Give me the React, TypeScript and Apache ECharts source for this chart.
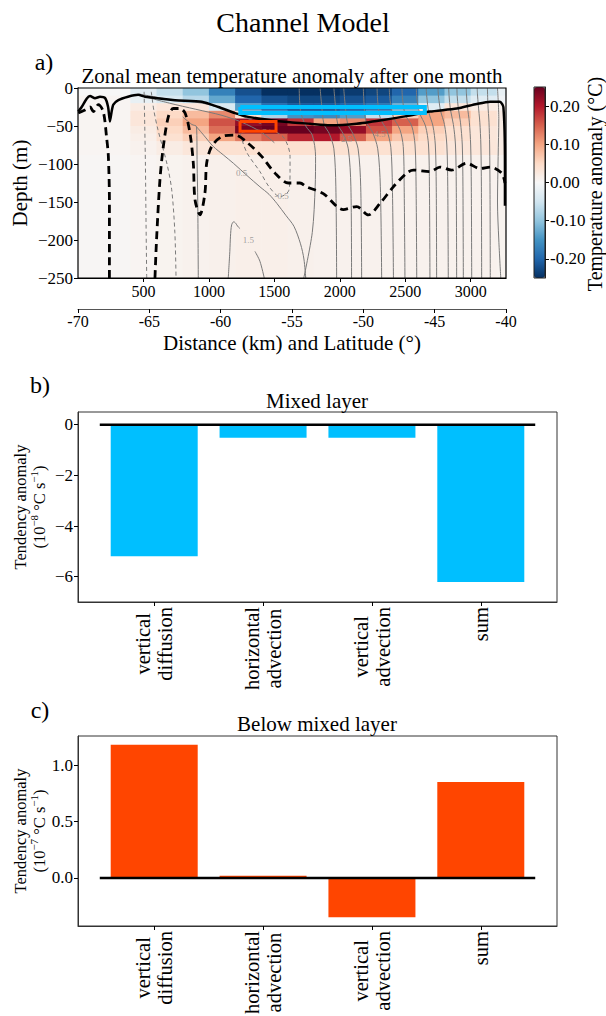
import React, { useEffect, useRef } from "react";
import * as echarts from "echarts";

const FF = "Liberation Serif";

// ---------- Panel a: zonal mean temperature anomaly ----------
const xEdges = [0, 200, 400, 600, 800, 1000, 1200, 1400, 1600, 1800, 2000, 2200, 2400, 2600, 2800, 3000, 3200, 3270];
const depthEdges = [0, -10, -20, -30, -40, -50, -60, -70, -88, -250];
const anomRow0 = [0, 0, -0.03, -0.06, -0.1, -0.17, -0.22, -0.25, -0.25, -0.25, -0.24, -0.23, -0.2, -0.14, -0.1, -0.06, -0.02];
const anomRow1 = [0.005, 0.005, -0.02, -0.04, -0.07, -0.13, -0.2, -0.22, -0.23, -0.23, -0.22, -0.21, -0.17, -0.1, -0.06, -0.03, -0.01];
const anomRow2 = [0.005, 0.005, 0.02, 0.03, 0.03, -0.04, -0.14, -0.19, -0.21, -0.21, -0.2, -0.18, -0.12, -0.03, 0.03, 0.02, 0.01];
const anomRow3 = [0.005, 0.005, 0.03, 0.05, 0.08, 0.12, 0.04, -0.08, -0.15, -0.16, -0.14, -0.06, 0.06, 0.1, 0.08, 0.04, 0.02];
const anomRow4 = [0.005, 0.005, 0.03, 0.06, 0.1, 0.16, 0.22, 0.24, 0.18, 0.1, 0.12, 0.18, 0.15, 0.1, 0.06, 0.04, 0.02];
const anomRow5 = [0.005, 0.005, 0.02, 0.05, 0.08, 0.14, 0.24, 0.25, 0.25, 0.24, 0.22, 0.16, 0.1, 0.06, 0.04, 0.03, 0.02];
const anomRow6 = [0.005, 0.005, 0.015, 0.04, 0.06, 0.1, 0.13, 0.15, 0.19, 0.2, 0.15, 0.1, 0.07, 0.05, 0.04, 0.03, 0.02];
const anomRow7 = [0.005, 0.005, 0.01, 0.02, 0.03, 0.04, 0.04, 0.04, 0.04, 0.04, 0.04, 0.04, 0.04, 0.04, 0.03, 0.03, 0.02];
const anomRow8 = [0.003, 0.003, 0.005, 0.008, 0.01, 0.012, 0.015, 0.015, 0.012, 0.01, 0.01, 0.01, 0.01, 0.01, 0.01, 0.01, 0.008];
const anomRows = [anomRow0, anomRow1, anomRow2, anomRow3, anomRow4, anomRow5, anomRow6, anomRow7, anomRow8];

// tick values
const distTicks = [500, 1000, 1500, 2000, 2500, 3000];
const depthTicks = [0, -50, -100, -150, -200, -250];
const cbarTicks = [-0.2, -0.1, 0, 0.1, 0.2];
const mixedTicks = [0, -2, -4, -6];
const belowTicks = [0, 0.5, 1.0];

// mixed layer depth (solid black) and dashed black line  [km, depth m]
const mldLine = [[2, -31], [28, -25], [66, -14], [92, -10.5], [130, -13.5], [168, -11.5], [206, -13], [230, -25], [244, -44], [258, -30], [270, -22], [308, -16], [382, -11.5], [460, -9], [512, -11.5], [741, -16], [945, -18], [1072, -25], [1200, -33], [1300, -38], [1460, -42], [1620, -45], [1772, -47], [1925, -49], [2129, -47], [2332, -42], [2511, -37], [2689, -31], [2893, -27], [3046, -21], [3148, -18], [3224, -18], [3250, -25], [3262, -100], [3262, -155]];
const dashLineWest = [[2, -33], [53, -29], [92, -25], [117, -31], [155, -22], [193, -31], [219, -66], [232, -90], [240, -150], [240, -250]];
const dashLineEast = [[588, -250], [600, -200], [626, -121], [652, -77], [690, -38], [728, -27], [779, -27], [818, -33], [856, -60], [881, -99], [894, -147], [932, -167], [970, -138], [983, -99], [1021, -77], [1098, -64], [1200, -62], [1301, -73], [1403, -90], [1505, -112], [1607, -125], [1696, -125], [1747, -130], [1874, -139], [2027, -160], [2129, -156], [2218, -167], [2307, -152], [2409, -130], [2511, -112], [2562, -108], [2689, -110], [2765, -104], [2855, -108], [2970, -99], [3071, -106], [3148, -104], [3237, -112], [3262, -125]];

// temperature contours (solid = positive, dashed = negative)
const contoursSolid = [
  [[470, -8], [700, -15], [950, -20], [1100, -27], [1250, -37], [1400, -47]],
  [[480, -10], [700, -20], [900, -28], [1100, -36], [1250, -45], [1400, -58], [1500, -72]],
  [[800, -38], [870, -48], [906, -51], [910, -100], [915, -150], [919, -250]],
  [[906, -51], [960, -62], [1034, -77], [1110, -88], [1187, -99], [1290, -115], [1390, -130], [1460, -140], [1520, -152], [1590, -168], [1650, -182], [1700, -205], [1726, -225], [1740, -250]],
  [[1148, -250], [1160, -215], [1165, -195], [1174, -180], [1190, -176], [1205, -178], [1220, -182], [1238, -185]],
  [[1352, -215], [1390, -228], [1423, -250]],
  [[1725, -250], [1790, -190], [1812, -130], [1815, -90], [1790, -62], [1740, -50], [1700, -30], [1690, 0]],
  [[1976, -250], [1970, -130], [1955, -80], [1920, -60], [1880, -48], [1860, -20], [1850, 0]],
  [[2090, -250], [2085, -130], [2065, -80], [2025, -60], [1985, -48], [1965, -20], [1955, 0]],
  [[2167, -250], [2160, -130], [2140, -80], [2100, -60], [2060, -47], [2040, -20], [2030, 0]],
  [[2320, -250], [2310, -130], [2290, -80], [2250, -58], [2200, -44], [2185, -20], [2180, 0]],
  [[2410, -250], [2402, -130], [2390, -78], [2360, -56], [2310, -40], [2290, -18], [2285, 0]],
  [[2498, -250], [2492, -130], [2485, -77], [2460, -55], [2409, -38], [2384, -16], [2378, 0]],
  [[2588, -250], [2583, -130], [2575, -75], [2550, -50], [2500, -35], [2480, -15], [2475, 0]],
  [[2689, -250], [2685, -130], [2678, -75], [2655, -50], [2610, -33], [2590, -15], [2585, 0]],
  [[2740, -250], [2737, -130], [2730, -75], [2712, -50], [2680, -32], [2665, -12], [2660, 0]],
  [[2829, -250], [2825, -130], [2818, -75], [2800, -48], [2770, -30], [2755, -12], [2750, 0]],
  [[2893, -250], [2890, -130], [2884, -75], [2868, -48], [2845, -28], [2835, -10], [2832, 0]],
  [[2944, -250], [2941, -130], [2936, -75], [2922, -45], [2905, -26], [2897, -10], [2895, 0]],
  [[3008, -250], [3005, -130], [3000, -75], [2990, -45], [2975, -24], [2968, -8], [2966, 0]],
  [[3084, -250], [3082, -130], [3078, -75], [3070, -45], [3058, -22], [3052, -8], [3050, 0]],
  [[3150, -250], [3148, -140], [3145, -75], [3140, -45], [3132, -22], [3128, 0]],
  [[3230, -250], [3215, -200], [3205, -150], [3210, -90], [3215, -40], [3205, 0]],
];
const contoursDashed = [
  [[505, -5], [510, -50], [515, -100], [520, -180], [525, -250]],
  [[560, -5], [580, -30], [611, -55], [680, -100], [716, -134], [740, -190], [749, -250]],
  [[1238, -60], [1290, -85], [1390, -110], [1460, -130], [1543, -143], [1610, -135], [1620, -110], [1620, -90], [1566, -64], [1441, -55], [1289, -57], [1238, -60]],
];
const contourLabelText = ["0.5", "-0.5", "1.5", "2.5", "4.5"];
const contourLabelX = [1250, 1556, 1301, 2053, 2307];
const contourLabelY = [-112, -142, -200, -67, -60];

// analysis boxes
const blueBoxX = [1240, 2650];
const blueBoxY = [-25, -33];
const redBoxX = [1238, 1513];
const redBoxY = [-44, -57];

// colour bar
const rdbu = ["#053061", "#2166ac", "#4393c3", "#92c5de", "#d1e5f0", "#f7f7f7", "#fddbc7", "#f4a582", "#d6604d", "#b2182b", "#67001f"];

// ---------- Panels b, c ----------
const categories = ["vertical diffusion", "horizontal advection", "vertical advection", "sum"];
const mixedLayer = [-5.19, -0.52, -0.52, -6.21];
const belowMixed = [1.185, 0.02, -0.35, 0.852];
const zeroLineX = [-0.5, 3.5];
const mixedRange = [-7, 0.5];
const belowRange = [-0.427, 1.262];

function boxPts(xs: number[], ys: number[]) {
  return [[xs[0], ys[0]], [xs[1], ys[0]], [xs[1], ys[1]], [xs[0], ys[1]], [xs[0], ys[0]]];
}

const minus = (v: number, d: number) => (v < 0 ? "\u2212" + Math.abs(v).toFixed(d) : v.toFixed(d));

const CAT_FONT = 20.5;
const CAT_LINE = 22;
function measure(text: string, size: number) {
  const c = document.createElement("canvas").getContext("2d");
  if (!c) return text.length * size * 0.45;
  c.font = `${size}px ${FF}`;
  return c.measureText(text).width;
}

const txt = (x: number, y: number, text: string, size: number, rot = 0) => ({
  type: "text", x, y, rotation: rot, silent: true,
  style: { text, fontSize: size, fontFamily: FF, fill: "#000", align: "center", verticalAlign: "middle" },
});

function baseGraphics() {
  const unitText = (exp: string) => `{n|(10}{s|\u2212${exp}}{n| \u00B0C s}{s|\u22121}{n|)}`;
  const unitRich = {
    n: { fontSize: 16.5, fontFamily: FF, fill: "#000", lineHeight: 19, verticalAlign: "bottom" },
    s: { fontSize: 11, fontFamily: FF, fill: "#000", lineHeight: 19, verticalAlign: "top" },
  };
  return [
    txt(303, 22, "Channel Model", 28),
    txt(44, 62, "a)", 24),
    txt(292, 76, "Zonal mean temperature anomaly after one month", 21),
    txt(20, 183, "Depth (m)", 21, Math.PI / 2),
    txt(595, 184, "Temperature anomaly (\u00B0C)", 20, Math.PI / 2),
    txt(292, 343, "Distance (km) and Latitude (\u00B0)", 21),
    txt(40, 385, "b)", 24),
    txt(317, 401, "Mixed layer", 21),
    txt(20, 507, "Tendency anomaly", 16.5, Math.PI / 2),
    {
      type: "text", x: 38, y: 507, rotation: Math.PI / 2, silent: true,
      style: { text: unitText("8"), rich: unitRich, align: "center", verticalAlign: "middle", fontFamily: FF, fontSize: 16.5 },
    },
    txt(40, 710, "c)", 24),
    txt(317, 724, "Below mixed layer", 21),
    txt(20, 831, "Tendency anomaly", 16.5, Math.PI / 2),
    {
      type: "text", x: 38, y: 831, rotation: Math.PI / 2, silent: true,
      style: { text: unitText("7"), rich: unitRich, align: "center", verticalAlign: "middle", fontFamily: FF, fontSize: 16.5 },
    },
  ];
}

function buildOption() {
  const heat: number[][] = [];
  anomRows.forEach((row, r) => {
    row.forEach((v, c) => {
      heat.push([xEdges[c], xEdges[c + 1], depthEdges[r], depthEdges[r + 1], v]);
    });
  });

  const series: any[] = [];
  series.push({
    type: "custom",
    xAxisIndex: 0,
    yAxisIndex: 0,
    data: heat,
    encode: { x: [0, 1], y: [2, 3] },
    clip: true,
    z: 1,
    silent: true,
    renderItem: (_p: any, api: any) => {
      const a = api.coord([api.value(0), api.value(2)]);
      const b = api.coord([api.value(1), api.value(3)]);
      return {
        type: "rect",
        shape: { x: a[0], y: a[1], width: b[0] - a[0] + 0.6, height: b[1] - a[1] + 0.6 },
        style: { fill: api.visual("color") },
      };
    },
  });
  contoursSolid.forEach((pts) =>
    series.push({
      type: "line", xAxisIndex: 0, yAxisIndex: 0, data: pts, showSymbol: false, smooth: 0.3, silent: true, z: 3,
      lineStyle: { color: "#7a7a7a", width: 1 },
    })
  );
  contoursDashed.forEach((pts) =>
    series.push({
      type: "line", xAxisIndex: 0, yAxisIndex: 0, data: pts, showSymbol: false, smooth: 0.3, silent: true, z: 3,
      lineStyle: { color: "#7a7a7a", width: 1, type: [4, 3] },
    })
  );
  series.push({
    type: "scatter", xAxisIndex: 0, yAxisIndex: 0, symbolSize: 1, silent: true, z: 4,
    itemStyle: { color: "transparent" },
    data: contourLabelText.map((t, i) => ({ name: t, value: [contourLabelX[i], contourLabelY[i]] })),
    label: { show: true, position: "inside", formatter: "{b}", fontSize: 9, color: "#8a8a8a", fontFamily: FF },
  });
  series.push({
    type: "line", xAxisIndex: 0, yAxisIndex: 0, data: mldLine, showSymbol: false, smooth: 0.2, silent: true, z: 5,
    lineStyle: { color: "#000", width: 2.5 },
  });
  [dashLineWest, dashLineEast].forEach((pts) =>
    series.push({
      type: "line", xAxisIndex: 0, yAxisIndex: 0, data: pts, showSymbol: false, smooth: 0.3, silent: true, z: 5,
      lineStyle: { color: "#000", width: 2.8, type: [8, 5] },
    })
  );
  series.push({
    type: "line", xAxisIndex: 0, yAxisIndex: 0, data: boxPts(blueBoxX, blueBoxY), showSymbol: false, silent: true, z: 6,
    lineStyle: { color: "#00BFFF", width: 4, join: "miter" },
  });
  series.push({
    type: "line", xAxisIndex: 0, yAxisIndex: 0, data: boxPts(redBoxX, redBoxY), showSymbol: false, silent: true, z: 6,
    lineStyle: { color: "#FF4500", width: 3, join: "miter" },
  });

  // bars
  series.push({
    type: "bar", xAxisIndex: 2, yAxisIndex: 1, barWidth: 87, silent: true, z: 2,
    data: mixedLayer.map((v, i) => [i, v]),
    itemStyle: { color: "#00BFFF" },
  });
  series.push({
    type: "line", xAxisIndex: 2, yAxisIndex: 1, data: zeroLineX.map((x) => [x, 0]), showSymbol: false, silent: true, z: 5,
    lineStyle: { color: "#000", width: 2.5 },
  });
  series.push({
    type: "bar", xAxisIndex: 3, yAxisIndex: 2, barWidth: 87, silent: true, z: 2,
    data: belowMixed.map((v, i) => [i, v]),
    itemStyle: { color: "#FF4500" },
  });
  series.push({
    type: "line", xAxisIndex: 3, yAxisIndex: 2, data: zeroLineX.map((x) => [x, 0]), showSymbol: false, silent: true, z: 5,
    lineStyle: { color: "#000", width: 2.5 },
  });

  const tick = { show: true, length: 4, lineStyle: { color: "#000", width: 1 } };
  const axLine = { show: true, onZero: false, lineStyle: { color: "#000", width: 1 } };
  const catIdx = categories.map((_c, i) => i);
  const catAxis = (grid: number) => ({
    gridIndex: grid, type: "value", min: -0.7, max: 3.7,
    axisLine: { show: true, onZero: false, lineStyle: { color: "#333", width: 1 } },
    axisTick: { ...tick, customValues: catIdx },
    splitLine: { show: false },
    axisLabel: { show: false },
  });
  const lab = (size: number) => ({ fontSize: size, margin: 5, color: "#000", fontFamily: FF });

  return {
    animation: false,
    backgroundColor: "#fff",
    textStyle: { fontFamily: FF },
    grid: [
      { left: 78, top: 88, width: 428, height: 190, show: true, borderColor: "#000", borderWidth: 1.2, backgroundColor: "transparent", z: 10 },
      { left: 78, top: 412, width: 479, height: 190, show: true, borderColor: "#333", borderWidth: 1, backgroundColor: "transparent" },
      { left: 78, top: 736, width: 479, height: 190, show: true, borderColor: "#333", borderWidth: 1, backgroundColor: "transparent" },
      { left: 534, top: 87, width: 11, height: 191, show: true, borderColor: "#222", borderWidth: 1, backgroundColor: "transparent", z: 10 },
    ],
    visualMap: {
      type: "continuous", seriesIndex: 0, dimension: 4, min: -0.25, max: 0.25,
      inRange: { color: rdbu }, left: 534, top: 87, itemWidth: 11, itemHeight: 191,
      calculable: false, padding: 0, orient: "vertical", hoverLink: false, showLabel: false,
    },
    xAxis: [
      {
        gridIndex: 0, type: "value", min: 0, max: 3270,
        axisLine: axLine, axisTick: { ...tick, customValues: distTicks }, splitLine: { show: false },
        axisLabel: { ...lab(16), customValues: distTicks, formatter: (v: number) => String(v) },
      },
      {
        gridIndex: 0, type: "value", position: "bottom", offset: 31, min: -70, max: -40, interval: 5,
        axisLine: { show: true, onZero: false, lineStyle: { color: "#555", width: 1 } }, axisTick: tick, splitLine: { show: false },
        axisLabel: { ...lab(16), margin: 4 },
      },
      catAxis(1),
      catAxis(2),
      { gridIndex: 3, type: "value", min: 0, max: 1, show: false },
    ],
    yAxis: [
      {
        gridIndex: 0, type: "value", min: -250, max: 0,
        axisLine: axLine, axisTick: { ...tick, customValues: depthTicks }, splitLine: { show: false },
        axisLabel: { ...lab(17), customValues: depthTicks, formatter: (v: number) => minus(v, 0) },
      },
      {
        gridIndex: 1, type: "value", min: mixedRange[0], max: mixedRange[1],
        axisLine: { show: true, onZero: false, lineStyle: { color: "#333" } }, axisTick: { ...tick, customValues: mixedTicks }, splitLine: { show: false },
        axisLabel: { ...lab(17), customValues: mixedTicks, formatter: (v: number) => minus(v, 0) },
      },
      {
        gridIndex: 2, type: "value", min: belowRange[0], max: belowRange[1],
        axisLine: { show: true, onZero: false, lineStyle: { color: "#333" } }, axisTick: { ...tick, customValues: belowTicks }, splitLine: { show: false },
        axisLabel: { ...lab(17), customValues: belowTicks, formatter: (v: number) => minus(v, 1) },
      },
      {
        gridIndex: 3, type: "value", position: "right", min: -0.25, max: 0.25,
        axisLine: { show: true, onZero: false, lineStyle: { color: "#222" } }, axisTick: { ...tick, customValues: cbarTicks }, splitLine: { show: false },
        axisLabel: { ...lab(17), customValues: cbarTicks, formatter: (v: number) => v.toFixed(2) },
      },
    ],
    graphic: baseGraphics(),
    series,
  };
}

// category labels rotated 90 degrees, lines centred on each other, block starting just below the axis
function categoryLabelGraphics(chart: any) {
  const out: any[] = [];
  const panels = [
    { xAxisIndex: 2, yAxisIndex: 1, bottom: mixedRange[0] },
    { xAxisIndex: 3, yAxisIndex: 2, bottom: belowRange[0] },
  ];
  panels.forEach((p) => {
    categories.forEach((cat, i) => {
      const pt = chart.convertToPixel({ xAxisIndex: p.xAxisIndex, yAxisIndex: p.yAxisIndex }, [i, p.bottom]);
      if (!pt) return;
      const lines = cat.split(" ");
      const w = Math.max(...lines.map((l) => measure(l, CAT_FONT)));
      const cy = pt[1] + 5 + w / 2;
      lines.forEach((l, k) => {
        const cx = pt[0] + (k - (lines.length - 1) / 2) * CAT_LINE;
        out.push(txt(cx, cy, l, CAT_FONT, Math.PI / 2));
      });
    });
  });
  return out;
}

export default function App() {
  const ref = useRef<HTMLDivElement>(null);
  useEffect(() => {
    document.body.style.margin = "0";
    const chart = echarts.init(ref.current!, null, { renderer: "svg" });
    chart.setOption(buildOption() as any);
    chart.setOption({ graphic: [...baseGraphics(), ...categoryLabelGraphics(chart)] } as any);
    return () => chart.dispose();
  }, []);
  return <div ref={ref} style={{ width: 606, height: 1016 }} />;
}
